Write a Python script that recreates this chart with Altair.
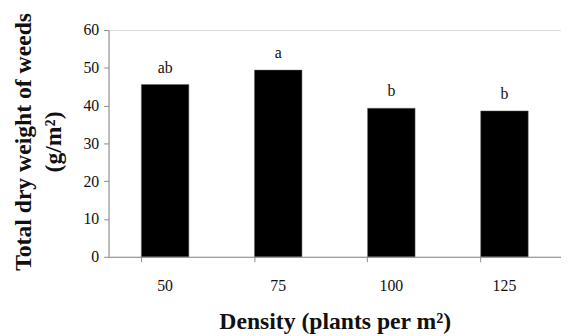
import altair as alt
import pandas as pd

density = ["50", "75", "100", "125"]
weight = [45.6, 49.4, 39.3, 38.6]
letters = ["ab", "a", "b", "b"]
y_ticks = [0, 10, 20, 30, 40, 50, 60]

df = pd.DataFrame({"density": density, "weight": weight, "letter": letters})

FONT = "Liberation Serif"

x = alt.X(
    "density:N",
    sort=density,
    scale=alt.Scale(paddingInner=0.58, paddingOuter=0.29),
    axis=alt.Axis(
        title="Density (plants per m²)",
        labelAngle=0,
        labelFont=FONT,
        labelFontSize=16,
        labelColor="#111",
        labelPadding=16,
        tickSize=5,
        bandPosition=0,
        domainColor="#8a8a8a",
        tickColor="#8a8a8a",
        titleFont=FONT,
        titleFontSize=24,
        titleFontWeight="bold",
        titleColor="#111",
        titleBaseline="alphabetic",
        titleY=73,
        grid=False,
    ),
)

y = alt.Y(
    "weight:Q",
    scale=alt.Scale(domain=[0, 60], nice=False),
    axis=alt.Axis(
        values=y_ticks,
        labelOverlap=False,
        title=["Total dry weight of weeds", "(g/m²)"],
        labelFont=FONT,
        labelFontSize=16,
        labelColor="#111",
        labelPadding=5,
        tickSize=5,
        domainColor="#8a8a8a",
        tickColor="#8a8a8a",
        titleFont=FONT,
        titleFontSize=24,
        titleFontWeight="bold",
        titleColor="#111",
        titleLineHeight=30,
        titleAngle=-90,
        titleAlign="center",
        titleBaseline="top",
        titleX=-98,
        titleY=113,
        grid=False,
    ),
)

base = alt.Chart(df).encode(x=x, y=y)

bars = base.mark_bar(color="black", stroke="#666", strokeWidth=0.5)

labels = base.mark_text(
    font=FONT, fontSize=16, baseline="alphabetic", dy=-12, color="#111"
).encode(text="letter:N")

chart = (
    alt.layer(bars, labels)
    .properties(
        width=459,
        height=230,
        autosize=alt.AutoSizeParams(type="none"),
        padding={"left": 102, "top": 20, "right": 0, "bottom": 78},
    )
    .configure_view(stroke=None, strokeWidth=0)
    .configure(background="white")
)

chart.save("out.html", embed_options={"renderer": "svg", "actions": False})
